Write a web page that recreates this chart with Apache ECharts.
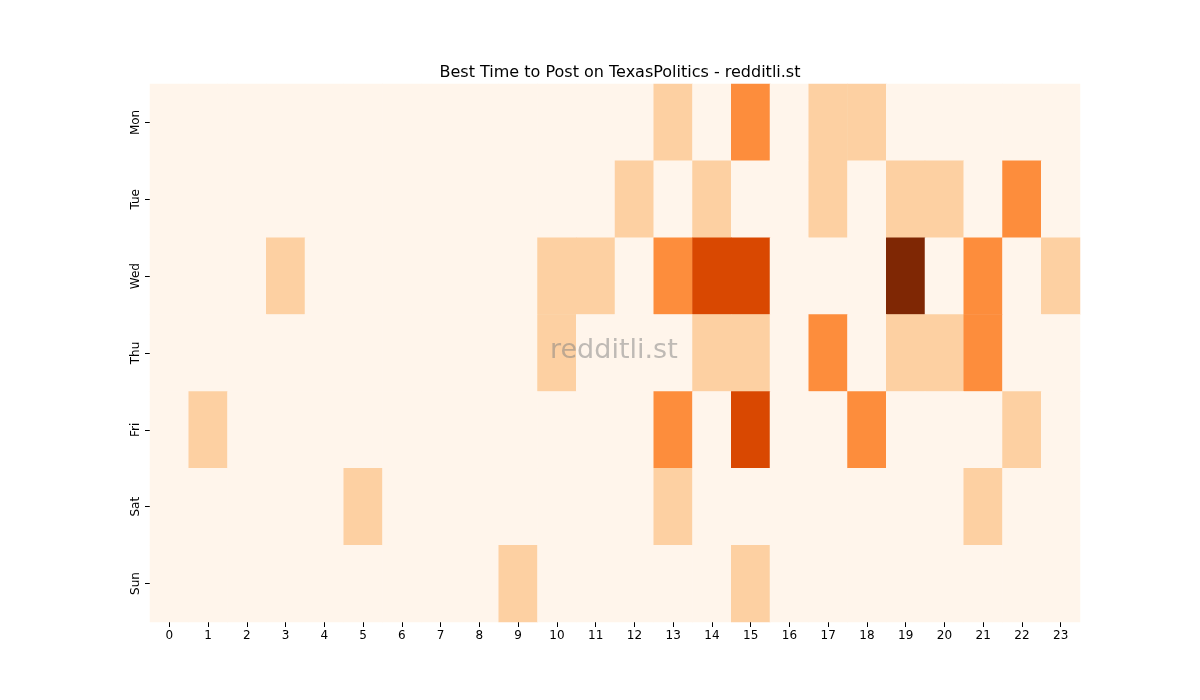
<!DOCTYPE html>
<html><head><meta charset="utf-8">
<script src="https://cdn.jsdelivr.net/npm/echarts@6/dist/echarts.min.js"></script>
<style>html,body{margin:0;padding:0;background:#fff}#c{width:1200px;height:700px}</style>
</head><body><div id="c"></div>
<script>
const hours = ['0','1','2','3','4','5','6','7','8','9','10','11','12','13','14','15','16','17','18','19','20','21','22','23'];
const days = ['Mon','Tue','Wed','Thu','Fri','Sat','Sun'];
const mon = [0,0,0,0,0,0,0,0,0,0,0,0,0,1,0,2,0,1,1,0,0,0,0,0];
const tue = [0,0,0,0,0,0,0,0,0,0,0,0,1,0,1,0,0,1,0,1,1,0,2,0];
const wed = [0,0,0,1,0,0,0,0,0,0,1,1,0,2,3,3,0,0,0,4,0,2,0,1];
const thu = [0,0,0,0,0,0,0,0,0,0,1,0,0,0,1,1,0,2,0,1,1,2,0,0];
const fri = [0,1,0,0,0,0,0,0,0,0,0,0,0,2,0,3,0,0,2,0,0,0,1,0];
const sat = [0,0,0,0,0,1,0,0,0,0,0,0,0,1,0,0,0,0,0,0,0,1,0,0];
const sun = [0,0,0,0,0,0,0,0,0,1,0,0,0,0,0,1,0,0,0,0,0,0,0,0];
const rows = [mon,tue,wed,thu,fri,sat,sun];
const data = [];
rows.forEach((r,y)=>r.forEach((v,x)=>data.push([x,y,v])));
const chart = echarts.init(document.getElementById('c'));
chart.setOption({
  animation:false,
  title:{text:'Best Time to Post on TexasPolitics - redditli.st',left:615,textAlign:'center',top:60,
    textStyle:{fontFamily:'DejaVu Sans',fontSize:16,fontWeight:'normal',color:'#000'}},
  grid:{left:150,right:120,top:84,bottom:78},
  xAxis:{type:'category',data:hours,splitArea:{show:false},
    axisLine:{show:false},axisTick:{show:true,alignWithLabel:true,lineStyle:{color:'#000'}},
    axisLabel:{color:'#000',fontFamily:'DejaVu Sans',fontSize:12}},
  yAxis:{type:'category',data:days,inverse:true,
    axisLine:{show:false},axisTick:{show:true,alignWithLabel:true,lineStyle:{color:'#000'}},
    axisLabel:{color:'#000',fontFamily:'DejaVu Sans',fontSize:12,rotate:90}},
  visualMap:{show:false,type:'piecewise',dimension:2,pieces:[
    {value:0,color:'#fff5eb'},{value:1,color:'#fdd0a2'},{value:2,color:'#fd8d3c'},
    {value:3,color:'#d94801'},{value:4,color:'#7f2704'}]},
  graphic:[{type:'text',left:550,top:337,z:100,style:{text:'redditli.st',fontSize:27,fontFamily:'DejaVu Sans',fill:'rgba(128,128,128,0.5)'}}],
  series:[{type:'heatmap',data:data,itemStyle:{borderWidth:0}}]
});
</script></body></html>
